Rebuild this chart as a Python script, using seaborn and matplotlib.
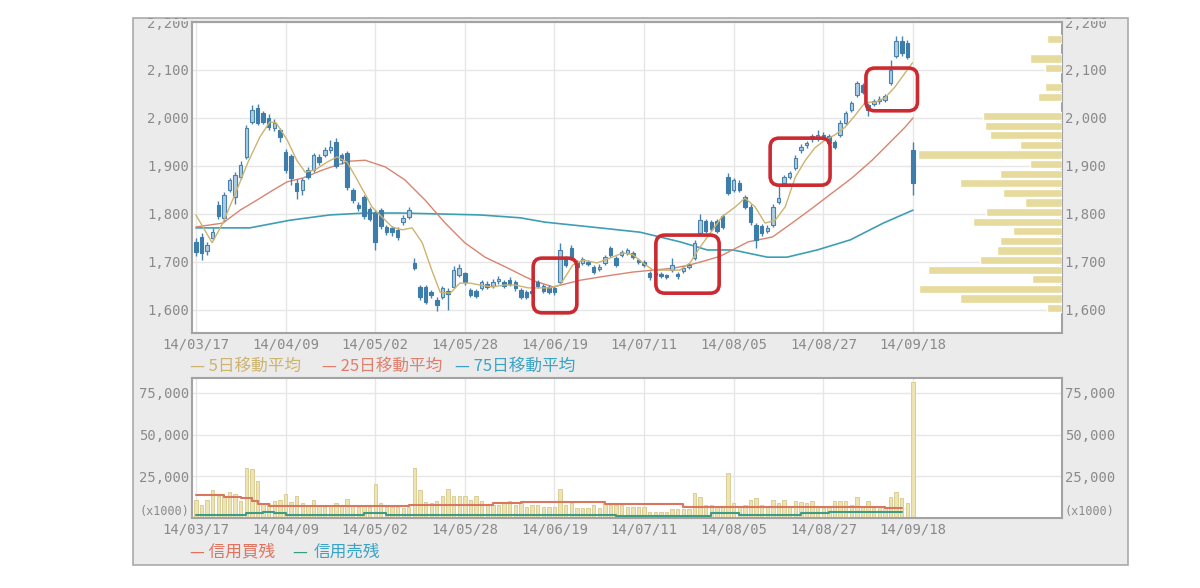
import numpy as np
import pandas as pd
import seaborn as sns
import matplotlib.pyplot as plt
from matplotlib.patches import Rectangle, FancyBboxPatch

# ---- data ----
date_labels = ['14/03/17', '14/04/09', '14/05/02', '14/05/28', '14/06/19',
               '14/07/11', '14/08/05', '14/08/27', '14/09/18']
tick_days = [0, 16, 32, 48, 64, 80, 96, 112, 128]

opens = [1742, 1752, 1722, 1750, 1819, 1792, 1850, 1835, 1877, 1919,
         1992, 2021, 2010, 2000, 1979, 1975, 1929, 1920, 1865, 1850,
         1892, 1892, 1919, 1923, 1933, 1950, 1923, 1927, 1850, 1819,
         1835, 1810, 1802, 1808, 1773, 1770, 1767, 1783, 1794, 1698,
         1648, 1648, 1637, 1621, 1627, 1640, 1648, 1673, 1677, 1642,
         1640, 1646, 1655, 1650, 1660, 1658, 1662, 1658, 1642, 1637,
         1640, 1658, 1650, 1648, 1645, 1658, 1708, 1729, 1700, 1698,
         1700, 1690, 1686, 1698, 1729, 1708, 1715, 1718, 1719, 1704,
         1700, 1677, 1677, 1675, 1671, 1683, 1675, 1681, 1690, 1708,
         1760, 1785, 1783, 1785, 1795, 1877, 1850, 1865, 1835, 1815,
         1777, 1775, 1765, 1777, 1825, 1864, 1877, 1896, 1933, 1943,
         1956, 1958, 1965, 1962, 1950, 1965, 1990, 2017, 2048, 2068,
         2027, 2030, 2035, 2038, 2073, 2130, 2160, 2157, 1933]
closes = [1720, 1718, 1735, 1762, 1796, 1840, 1871, 1881, 1902, 1979,
          2017, 1990, 1992, 1981, 1990, 1960, 1892, 1875, 1848, 1871,
          1878, 1923, 1908, 1933, 1940, 1900, 1912, 1856, 1829, 1812,
          1795, 1790, 1742, 1775, 1762, 1762, 1752, 1792, 1808, 1687,
          1627, 1617, 1631, 1610, 1646, 1633, 1683, 1687, 1658, 1631,
          1630, 1658, 1648, 1658, 1665, 1650, 1655, 1646, 1627, 1627,
          1635, 1650, 1640, 1638, 1637, 1725, 1694, 1710, 1690, 1706,
          1696, 1679, 1690, 1710, 1715, 1694, 1721, 1725, 1710, 1700,
          1694, 1669, 1672, 1670, 1669, 1694, 1671, 1688, 1694, 1740,
          1787, 1765, 1769, 1765, 1772, 1844, 1871, 1850, 1815, 1783,
          1746, 1760, 1771, 1815, 1833, 1877, 1885, 1917, 1940, 1948,
          1962, 1965, 1960, 1948, 1940, 1990, 2010, 2031, 2073, 2054,
          2017, 2035, 2040, 2045, 2100, 2160, 2135, 2127, 1864]
highs = [1750, 1760, 1742, 1770, 1826, 1846, 1876, 1888, 1910, 1985,
         2028, 2030, 2015, 2008, 1998, 1980, 1935, 1925, 1872, 1876,
         1897, 1928, 1924, 1940, 1954, 1958, 1928, 1932, 1855, 1825,
         1840, 1815, 1808, 1812, 1778, 1775, 1772, 1798, 1815, 1708,
         1652, 1652, 1642, 1626, 1650, 1645, 1692, 1696, 1680, 1646,
         1644, 1662, 1660, 1664, 1670, 1662, 1668, 1662, 1646, 1642,
         1652, 1662, 1655, 1652, 1650, 1740, 1712, 1735, 1704, 1710,
         1704, 1694, 1695, 1715, 1734, 1712, 1725, 1729, 1723, 1708,
         1704, 1681, 1681, 1679, 1675, 1708, 1679, 1692, 1698, 1745,
         1800, 1790, 1788, 1790, 1800, 1885, 1876, 1870, 1840, 1820,
         1782, 1780, 1776, 1820, 1860, 1882, 1890, 1922, 1945, 1953,
         1967, 1975, 1970, 1967, 1955, 1995, 2015, 2036, 2078, 2073,
         2032, 2040, 2045, 2050, 2120, 2170, 2170, 2162, 1950]
lows = [1712, 1705, 1715, 1745, 1790, 1785, 1845, 1820, 1872, 1915,
        1988, 1985, 1988, 1975, 1972, 1950, 1885, 1860, 1832, 1840,
        1872, 1888, 1903, 1918, 1928, 1895, 1905, 1850, 1822, 1806,
        1790, 1785, 1725, 1768, 1756, 1755, 1745, 1778, 1790, 1683,
        1620, 1612, 1625, 1597, 1622, 1600, 1645, 1668, 1652, 1626,
        1625, 1641, 1643, 1645, 1655, 1645, 1650, 1640, 1622, 1622,
        1630, 1645, 1636, 1633, 1632, 1655, 1690, 1705, 1686, 1694,
        1692, 1674, 1682, 1694, 1711, 1690, 1711, 1714, 1706, 1696,
        1690, 1663, 1668, 1666, 1665, 1679, 1665, 1677, 1686, 1704,
        1756, 1760, 1764, 1760, 1768, 1840, 1846, 1845, 1810, 1778,
        1730, 1755, 1760, 1773, 1820, 1860, 1872, 1892, 1928, 1938,
        1951, 1953, 1955, 1943, 1935, 1960, 1985, 2012, 2044, 2049,
        2005, 2025, 2030, 2033, 2068, 2125, 2130, 2122, 1840]

ma5_days = [0, 2.9, 4.8, 7.3, 9.3, 11.4, 13.2, 14.3, 16.3, 18.0, 19.5, 21.3,
            23.4, 25.2, 27.0, 28.8, 30.5, 31.4, 33.2, 35.0, 36.8, 38.6, 40.4,
            42.1, 43.6, 45.4, 47.1, 48.9, 50.7, 52.9, 55.2, 57.0, 59.3, 63.2,
            65.0, 67.3, 69.1, 71.6, 73.9, 76.2, 78.0, 79.8, 81.6, 84.1, 86.4,
            88.2, 90.0, 91.8, 93.9, 96.3, 98.0, 99.8, 101.6, 103.4, 105.2,
            107.0, 108.8, 110.5, 112.3, 114.1, 115.9, 117.7, 119.5, 121.3,
            123.0, 124.8, 126.6, 127.9]
ma5_vals = [1798, 1740, 1781, 1850, 1908, 1960, 1992, 1990, 1954, 1912, 1887,
            1892, 1908, 1919, 1908, 1871, 1835, 1815, 1794, 1773, 1767, 1771,
            1740, 1683, 1637, 1635, 1656, 1656, 1652, 1648, 1652, 1652, 1646,
            1646, 1652, 1694, 1704, 1698, 1708, 1719, 1715, 1698, 1683, 1683,
            1683, 1698, 1731, 1760, 1794, 1815, 1833, 1815, 1781, 1787, 1815,
            1877, 1912, 1938, 1954, 1965, 1981, 2006, 2033, 2033, 2042, 2065,
            2094, 2115]

ma25_days = [0, 4.8, 7.9, 10.9, 13.8, 16.3, 19.1, 22.7, 25.2, 27.5, 30.2,
             33.8, 37.3, 40.9, 44.5, 48.0, 51.6, 55.2, 58.8, 60.5, 63.8, 68.6,
             73.4, 78.0, 81.6, 85.2, 88.2, 91.3, 93.6, 98.6, 102.9, 106.4,
             110.0, 113.6, 117.1, 120.7, 124.3, 126.6, 128.0]
ma25_vals = [1773, 1781, 1808, 1829, 1850, 1867, 1875, 1892, 1902, 1910, 1912,
             1898, 1871, 1829, 1781, 1740, 1710, 1690, 1669, 1660, 1648, 1662,
             1671, 1679, 1683, 1687, 1694, 1704, 1712, 1742, 1752, 1781, 1812,
             1844, 1875, 1912, 1954, 1981, 2000]

ma75_days = [0, 9.6, 16.8, 23.9, 30.2, 36.4, 43.6, 50.7, 57.9, 62.3, 72.1,
             79.3, 86.4, 91.3, 95.9, 102.0, 105.5, 110.9, 116.8, 122.7, 128.0]
ma75_vals = [1771, 1771, 1787, 1798, 1802, 1802, 1800, 1798, 1792, 1783, 1771,
             1762, 1742, 1725, 1725, 1710, 1710, 1725, 1746, 1781, 1808]

# price-by-volume profile (relative length)
profile_price = [2164, 2124, 2104, 2064, 2044, 2004, 1984, 1964, 1944, 1924,
                 1904, 1884, 1864, 1844, 1824, 1804, 1784, 1764, 1744, 1724,
                 1704, 1684, 1664, 1644, 1624, 1604]
profile_vol = [15, 32, 17, 17, 24, 79, 77, 72, 42, 144, 32, 62, 102, 59, 37,
               76, 89, 49, 62, 65, 82, 134, 30, 143, 102, 15]

# daily volume (x1000 shares)
volume = [10900, 7900, 10900, 16600, 13200, 13200, 15400, 14600, 10200, 29900,
          29200, 22100, 9200, 9200, 10200, 10900, 14600, 9700, 13200, 9200,
          7900, 10900, 7900, 6900, 7900, 9200, 7900, 11600, 7900, 6900,
          7900, 6900, 20700, 9200, 6900, 6900, 6900, 5800, 6400, 29900,
          16600, 9700, 9200, 10200, 13200, 17200, 13200, 13200, 13200, 10900,
          13200, 10200, 7900, 7900, 7900, 9200, 10200, 7900, 9200, 6900,
          7900, 7900, 6900, 6900, 6900, 17700, 7900, 9200, 5800, 5800,
          5800, 7900, 5800, 9200, 7900, 7900, 7900, 6800, 6800, 6800,
          6800, 3800, 3800, 3800, 3800, 5200, 5200, 5200, 5200, 15200,
          12800, 7800, 7800, 6800, 6800, 26800, 8800, 6800, 7800, 10800,
          11800, 7800, 6800, 10800, 8800, 10800, 6800, 10200, 9800, 9200,
          10200, 6800, 5800, 6800, 10200, 10200, 10200, 7800, 12800, 6800,
          10200, 5800, 6800, 5800, 12800, 15800, 11800, 8800, 81800]

# margin balances (change points)
buy_days = [0, 5, 8, 10, 11, 13, 38, 53, 58, 73, 87, 89, 123, 126]
buy_vals = [13800, 12800, 12200, 10000, 8400, 7200, 7800, 8800, 9400, 8200,
            6800, 6400, 5800, 5800]
sell_days = [0, 9, 12, 14, 16, 30, 34, 75, 92, 97, 108, 113, 126]
sell_vals = [1800, 2800, 3400, 2800, 1800, 2800, 1800, 1200, 2800, 1600, 2800,
             3400, 3400]

# highlighted windows (day from, day to, price from, price to)
highlights = [(60.2, 68.0, 1594, 1708), (82.1, 93.4, 1635, 1756),
              (102.5, 113.2, 1860, 1958), (119.6, 128.8, 2015, 2104)]

# ---- style ----
sns.set_style("white")
plt.rcParams['font.family'] = ['Noto Sans CJK JP', 'DejaVu Sans']

GRID = '#E6E6E6'
TICK = '#8A8A8A'
SPINE = '#A3A3A3'
PANEL = '#EBEBEB'
C5, C25, C75 = '#CDB36C', '#D98470', '#3E9EB4'
UP_FACE, DOWN_FACE, EDGE = '#AECDE2', '#3E7CAA', '#4A82AE'
VOL = '#EEE4B2'


def fig_rect(x0, y0, x1, y1, **kw):
    # rectangle given in pixels from the top-left corner
    return Rectangle((x0 / 1200, 1 - y1 / 588), (x1 - x0) / 1200, (y1 - y0) / 588,
                     transform=fig.transFigure, **kw)


fig = plt.figure(figsize=(12, 5.88), dpi=100)
fig.patch.set_facecolor('white')
fig.patches.append(fig_rect(133, 18, 1128, 565, facecolor=PANEL,
                            edgecolor='#AAAAAA', lw=1.2, zorder=-10))

ax = fig.add_axes([192 / 1200, 1 - 333 / 588, 870 / 1200, 311 / 588])
axv = fig.add_axes([192 / 1200, 1 - 518 / 588, 870 / 1200, 140 / 588])

# ---- candles ----
candles = pd.DataFrame({'day': np.arange(len(opens)), 'open': opens,
                        'close': closes, 'high': highs, 'low': lows})
up = candles['close'] >= candles['open']
body = (candles['close'] - candles['open']).abs().clip(lower=3)
ax.vlines(candles['day'], candles['low'], candles['high'], color=EDGE, lw=1.0, zorder=3)
ax.bar(candles['day'][up], body[up], bottom=candles['open'][up], width=0.62,
       color=UP_FACE, edgecolor=EDGE, linewidth=0.8, zorder=4)
ax.bar(candles['day'][~up], body[~up], bottom=candles['close'][~up], width=0.62,
       color=DOWN_FACE, edgecolor=DOWN_FACE, linewidth=0.8, zorder=4)

sns.lineplot(x=ma75_days, y=ma75_vals, ax=ax, color=C75, linewidth=1.2, zorder=2)
sns.lineplot(x=ma25_days, y=ma25_vals, ax=ax, color=C25, linewidth=1.0, zorder=2)
sns.lineplot(x=ma5_days, y=ma5_vals, ax=ax, color=C5, linewidth=1.0, zorder=5)

for d0, d1, p0, p1 in highlights:
    ax.add_patch(FancyBboxPatch((d0, p0), d1 - d0, p1 - p0,
                                boxstyle='round,pad=0,rounding_size=1.6',
                                mutation_aspect=11.7, fill=False,
                                edgecolor='#CC2A30', lw=2.6, zorder=6))

# price-by-volume profile on the right
axp = ax.twiny()
sns.barplot(x=profile_vol, y=profile_price, orient='y', native_scale=True,
            color='#E6DA9C', saturation=1, width=0.85, errorbar=None, ax=axp)
axp.set_xlim(870, 0)
axp.set_xticks([])
axp.set_xlabel('')
axp.set_ylabel('')
for s in axp.spines.values():
    s.set_visible(False)

ax.set_xlim(-0.7, 154.6)
ax.set_ylim(1552, 2200)
price_ticks = list(range(1600, 2201, 100))
ax.set_yticks(price_ticks, [f'{v:,}' for v in price_ticks])
ax.set_xticks(tick_days, date_labels)
ax.set_xlabel('')
ax.set_ylabel('')

# ---- volume panel ----
sns.barplot(x=list(range(len(volume))), y=volume, native_scale=True, width=0.6,
            color=VOL, saturation=1, edgecolor='#D7C88C', linewidth=0.6,
            errorbar=None, ax=axv)
sns.lineplot(x=buy_days, y=buy_vals, ax=axv, color='#D9765E', linewidth=1.5,
             drawstyle='steps-post', zorder=3)
sns.lineplot(x=sell_days, y=sell_vals, ax=axv, color='#3C9C84', linewidth=1.5,
             drawstyle='steps-post', zorder=3)
axv.set_xlim(-0.7, 154.6)
axv.set_ylim(0, 84000)
axv.set_xticks(tick_days, date_labels)
axv.set_yticks([0, 25000, 50000, 75000], ['(x1000)', '25,000', '50,000', '75,000'])
axv.set_xlabel('')
axv.set_ylabel('')

for a in (ax, axv):
    a.set_facecolor('white')
    a.set_axisbelow(True)
    a.grid(True, color=GRID, lw=1.0)
    a.tick_params(axis='both', length=0, labelsize=10, labelcolor=TICK, pad=3)
    a.tick_params(axis='y', labelright=True, pad=2)
    for s in a.spines.values():
        s.set_color(SPINE)
        s.set_linewidth(1.5)
    for lbl in a.xaxis.get_majorticklabels() + a.yaxis.get_majorticklabels():
        lbl.set_fontfamily('DejaVu Sans Mono')

for t in axv.yaxis.get_major_ticks(4)[:1]:
    t.label1.set_fontsize(8.5)
    t.label2.set_fontsize(8.5)
    t.label1.set_va('bottom')
    t.label2.set_va('bottom')

# the top price label is cut at the panel's upper edge in the original
for x0, x1 in [(134, 191), (1063, 1127)]:
    fig.patches.append(fig_rect(x0, 0, x1, 17.3, facecolor='white', lw=0, zorder=5))
    fig.patches.append(fig_rect(x0, 18.7, x1, 21, facecolor=PANEL, lw=0, zorder=5))

# ---- legends ----
ly = 1 - 366 / 588
for x, txt, col in [(190, '— 5日移動平均', C5), (322, '— 25日移動平均', '#E07E6C'),
                    (455, '— 75日移動平均', '#3AA3C6')]:
    fig.text(x / 1200, ly, txt, color=col, fontsize=12, va='center')
by = 1 - 552 / 588
fig.text(190 / 1200, by, '— 信用買残', color='#E0725E', fontsize=12, va='center')
fig.text(292 / 1200, by, '—', color='#3C9C84', fontsize=12, va='center')
fig.text(314 / 1200, by, '信用売残', color='#3AA3C6', fontsize=12, va='center')

fig.savefig('out.png', dpi=100, facecolor='white')
